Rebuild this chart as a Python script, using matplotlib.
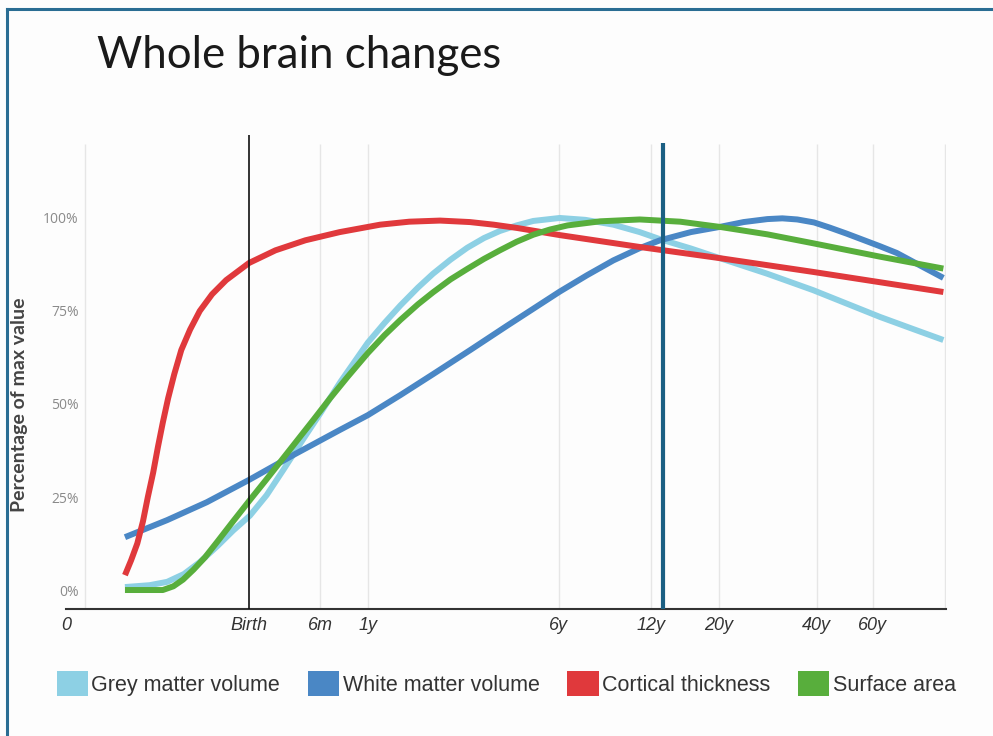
import matplotlib
matplotlib.use("Agg")
import matplotlib.pyplot as plt
from matplotlib.patches import Patch
from matplotlib.lines import Line2D

# x positions are on the chart's own (non-linear) age axis, 0 .. 10
tick_pos = [0.0, 2.08, 2.89, 3.43, 5.60, 6.65, 7.42, 8.53, 9.17]
tick_labels = ["0", "Birth", "6m", "1y", "6y", "12y", "20y", "40y", "60y"]
grid_pos = [0.22, 2.89, 3.43, 5.60, 6.65, 7.42, 8.53, 9.17, 9.99]
birth_pos = 2.08
marker_pos = 6.78  # teal line just after 12y

grey_x = [0.67, 0.95, 1.15, 1.34, 1.52, 1.72, 1.90, 2.09, 2.28, 2.47, 2.68,
          2.89, 3.12, 3.43, 3.62, 3.80, 4.00, 4.17, 4.37, 4.56, 4.75, 4.93,
          5.12, 5.31, 5.61, 5.90, 6.22, 6.52, 6.75, 7.10, 7.43, 7.97, 8.49,
          8.87, 9.25, 9.62, 9.97]
grey_y = [0.8, 1.3, 2.2, 4.3, 7.5, 11.8, 16.0, 20.0, 25.5, 32.3, 40.0,
          47.5, 56.0, 66.5, 71.8, 76.5, 81.3, 85.0, 88.8, 92.0, 94.6, 96.5,
          98.0, 99.2, 100.0, 99.5, 98.2, 96.2, 94.3, 91.8, 89.2, 85.0, 80.6,
          77.0, 73.4, 70.2, 67.2]

white_x = [0.67, 1.15, 1.60, 2.08, 2.60, 3.11, 3.43, 3.80, 4.17, 4.60, 5.01,
           5.31, 5.61, 5.92, 6.22, 6.52, 6.75, 7.10, 7.43, 7.70, 7.97, 8.14,
           8.31, 8.50, 8.68, 8.87, 9.06, 9.25, 9.44, 9.70, 9.97]
white_y = [14.2, 18.8, 23.6, 29.6, 36.5, 43.0, 47.0, 52.4, 58.0, 64.6, 71.0,
           75.6, 80.2, 84.6, 88.6, 91.9, 94.0, 96.2, 97.6, 98.9, 99.7, 99.9,
           99.6, 98.8, 97.4, 95.8, 94.1, 92.4, 90.6, 87.3, 83.9]

cort_x = [0.67, 0.74, 0.81, 0.875, 0.93, 0.99, 1.045, 1.10, 1.16, 1.23, 1.31,
          1.41, 1.52, 1.66, 1.82, 2.08, 2.38, 2.72, 3.11, 3.57, 3.90, 4.25,
          4.59, 4.86, 5.13, 5.61, 6.52, 7.43, 8.49, 9.97]
cort_y = [4.0, 8.0, 12.5, 18.5, 25.0, 31.5, 38.5, 45.0, 51.5, 58.0, 64.5,
          70.0, 75.0, 79.5, 83.3, 87.9, 91.3, 94.0, 96.2, 98.2, 99.0, 99.3,
          98.9, 98.2, 97.3, 95.4, 92.2, 89.2, 85.5, 80.1]

surf_x = [0.67, 1.10, 1.22, 1.33, 1.45, 1.58, 1.72, 1.90, 2.09, 2.27, 2.43,
          2.62, 2.81, 3.00, 3.20, 3.43, 3.62, 3.80, 4.00, 4.17, 4.37, 4.56,
          4.75, 4.93, 5.12, 5.31, 5.50, 5.70, 6.07, 6.52, 6.98, 7.43, 7.97,
          8.49, 9.25, 9.97]
surf_y = [0.0, 0.0, 1.0, 2.8, 5.5, 8.8, 13.0, 18.5, 24.2, 29.5, 34.3,
          40.0, 45.7, 51.5, 57.3, 63.7, 68.5, 72.6, 76.8, 80.0, 83.5, 86.3,
          89.0, 91.3, 93.6, 95.5, 96.9, 98.0, 99.1, 99.6, 99.0, 97.6, 95.6,
          93.2, 89.6, 86.4]

series = [
    ("Grey matter volume", grey_x, grey_y, "#8dd0e4"),
    ("White matter volume", white_x, white_y, "#4a87c5"),
    ("Cortical thickness", cort_x, cort_y, "#e0393c"),
    ("Surface area", surf_x, surf_y, "#58ae3c"),
]

W, H = 993, 736
fig = plt.figure(figsize=(W / 100, H / 100), dpi=100, facecolor="#fdfdfd")
ax = fig.add_axes([66 / W, (H - 609) / H, 880 / W, 476.6 / H])
ax.set_facecolor("none")
ax.set_xlim(0, 10)
ax.set_ylim(-5.1, 123)

ax.vlines(grid_pos, -5.1, 120, color="#e6e6e6", lw=1, zorder=0)

for name, xs, ys, col in series:
    ax.plot(xs, ys, color=col, lw=4.3, solid_joinstyle="round",
            solid_capstyle="butt", zorder=2)

ax.vlines(birth_pos, -5.1, 122.3, color="#111111", lw=1.2, zorder=3)
ax.vlines(marker_pos, -5.1, 120.2, color="#1b5f83", lw=3, zorder=4)

for s in ["top", "right", "left"]:
    ax.spines[s].set_visible(False)
ax.spines["bottom"].set_color("#333333")
ax.spines["bottom"].set_linewidth(1.5)

ax.set_xticks(tick_pos)
ax.set_xticklabels(tick_labels, fontsize=13, style="italic", color="#333333",
                   family=["Liberation Sans Narrow", "Liberation Sans"])
ax.tick_params(axis="x", length=0, pad=6)

ax.set_yticks([0, 25, 50, 75, 100])
ax.set_yticklabels(["0%", "25%", "50%", "75%", "100%"], fontsize=10,
                   color="#8a8a8a", family="Open Sans")
ax.tick_params(axis="y", length=0, pad=-9)

fig.text(97 / W, 1 - 56 / H, "Whole brain changes", fontsize=31.5,
         family="Lato", color="#1a1a1a", va="center", ha="left")
fig.text(20 / W, 1 - 405 / H, "Percentage of max value", rotation=90,
         fontsize=14, family="Lato", fontweight="bold", color="#444444",
         va="center", ha="center")

handles = [Patch(facecolor=c, edgecolor="none") for _, _, _, c in series]
labels = [n for n, _, _, _ in series]
leg = fig.legend(handles, labels, loc="upper left",
                 bbox_to_anchor=(57 / W, 1 - 671 / H), ncol=4, frameon=False,
                 prop={"family": "Liberation Sans", "size": 15.5},
                 handlelength=1.45, handleheight=1.4, handletextpad=0.15,
                 columnspacing=1.3, borderpad=0, borderaxespad=0)
for t in leg.get_texts():
    t.set_color("#333333")

# frame on the left and top edges
fig.add_artist(Line2D([7 / W, 7 / W], [0, 1 - 9 / H], color="#2a6d93",
                      lw=2.2, transform=fig.transFigure))
fig.add_artist(Line2D([7 / W, 1], [1 - 9 / H, 1 - 9 / H], color="#2a6d93",
                      lw=2.2, transform=fig.transFigure))

fig.savefig("out.png", dpi=100, facecolor=fig.get_facecolor())
